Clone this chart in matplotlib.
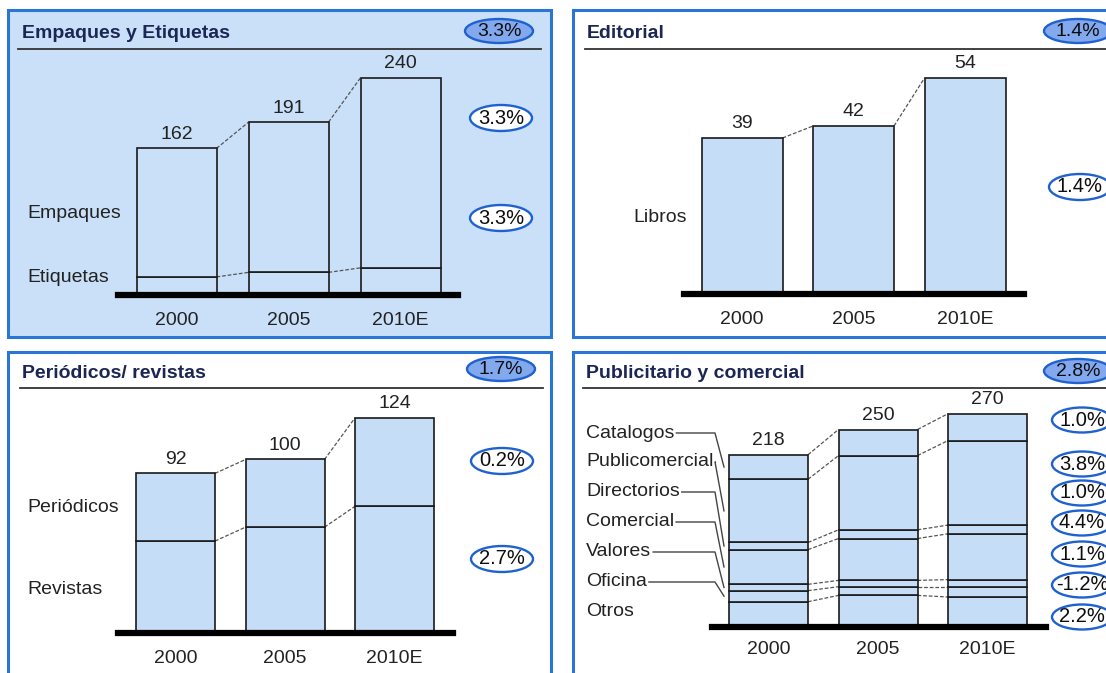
import matplotlib
matplotlib.use('Agg')
import matplotlib.pyplot as plt
from matplotlib.patches import Rectangle, Ellipse
from matplotlib.lines import Line2D
import numpy as np

plt.rcParams['font.family'] = ['Liberation Sans', 'DejaVu Sans']

# --- data -------------------------------------------------------------
years = ['2000', '2005', '2010E']

# Empaques y Etiquetas
etiquetas = [20, 25, 30]
empaques = [142, 166, 210]
emp_growth_total = '3.3%'
emp_growth = ['3.3%', '3.3%']

# Editorial
libros = [39, 42, 54]
edit_growth_total = '1.4%'
edit_growth = ['1.4%']

# Periodicos / revistas
revistas = [53, 61, 73]
periodicos = [39, 39, 51]
per_growth_total = '1.7%'
per_growth = ['0.2%', '2.7%']

# Publicitario y comercial (bottom -> top)
otros = [32, 40, 38]
oficina = [14, 11, 13]
valores = [8, 8, 9]
comercial = [44, 53, 58]
directorios = [9, 11, 11]
publicomercial = [80, 94, 107]
catalogos = [31, 33, 34]
pub_names = ['Catalogos', 'Publicomercial', 'Directorios', 'Comercial',
             'Valores', 'Oficina', 'Otros']
pub_growth_total = '2.8%'
pub_growth = ['1.0%', '3.8%', '1.0%', '4.4%', '1.1%', '-1.2%', '2.2%']

# --- style ------------------------------------------------------------
W, H = 1106, 673
BAR_FILL = '#c6ddf7'
PANEL_BLUE = '#c9e0f8'
BORDER = '#2a76d6'
EDGE = '#1a1a1a'
TITLE_C = '#1c2654'
TXT = '#222222'

fig = plt.figure(figsize=(W / 100, H / 100), dpi=100)
fig.patch.set_facecolor('white')


def fx(x):
    return x / W


def fy(y):
    return 1 - y / H


def panel(box, bg, title, tx, ty, ux0, ux1, uy, badge_xy, badge_txt):
    x0, y0, x1, y1 = box
    fig.add_artist(Rectangle((fx(x0), fy(y1)), fx(x1 - x0), (y1 - y0) / H,
                             transform=fig.transFigure, facecolor=bg,
                             edgecolor=BORDER, lw=2.2, zorder=0))
    fig.text(fx(tx), fy(ty), title, fontsize=14, fontweight='bold',
             color=TITLE_C, va='center', ha='left')
    fig.add_artist(Line2D([fx(ux0), fx(ux1)], [fy(uy), fy(uy)],
                          transform=fig.transFigure, color='#333333', lw=1.3))
    badge(badge_xy[0], badge_xy[1], badge_txt, filled=True)


def badge(x, y, txt, filled=False, w=62, h=26):
    if filled:
        fc, w, h, fs = '#82a8ee', 68, 24, 14
    else:
        fc, fs = 'white', 14.5
    fig.add_artist(Ellipse((fx(x), fy(y)), w / W, h / H,
                           transform=fig.transFigure, facecolor=fc,
                           edgecolor='#1f62cf', lw=1.7, zorder=3))
    fig.text(fx(x), fy(y), txt, fontsize=fs, color='#0d0d0d', ha='center',
             va='center', zorder=4)


def bar_axes(bx0, bx1, by, top, c0, step, bw, scale):
    ax = fig.add_axes([fx(bx0), fy(by), fx(bx1 - bx0), (by - top) / H])
    ax.set_xlim((bx0 - c0) / step, (bx1 - c0) / step)
    ax.set_ylim(0, (by - top) / scale)
    ax.patch.set_alpha(0)
    for s in ax.spines.values():
        s.set_visible(False)
    ax.set_yticks([])
    ax.set_xticks(range(len(years)), years)
    ax.tick_params(axis='x', length=0, pad=12, labelsize=14, labelcolor=TXT)
    ax.axhline(0, color='black', lw=4.5, clip_on=False, zorder=5)
    return ax, bw / step


def stacked(ax, w, series, fill):
    x = np.arange(len(years))
    bottom = np.zeros(len(years))
    levels = []
    for vals in series:
        ax.bar(x, vals, bottom=bottom, width=w, color=fill, edgecolor=EDGE,
               lw=1.2, zorder=2)
        bottom = bottom + np.array(vals)
        levels.append(bottom.copy())
    # dashed connectors between neighbouring bars
    for lev in levels:
        for i in range(len(years) - 1):
            ax.plot([i + w / 2, i + 1 - w / 2], [lev[i], lev[i + 1]],
                    color='#555555', lw=0.9, ls=(0, (3, 1.5)), zorder=1)
    for i, tot in enumerate(bottom):
        ax.annotate(f'{int(tot)}', (i, tot), xytext=(0, 4),
                    textcoords='offset points', ha='center', va='bottom',
                    fontsize=14, color=TXT)
    return levels


# panel 1: Empaques y Etiquetas
panel((8, 10, 551, 337), PANEL_BLUE, 'Empaques y Etiquetas', 22, 33,
      18, 541, 49, (499, 31), emp_growth_total)
ax1, w1 = bar_axes(118, 458, 295, 60, 176.5, 112, 80, 0.905)
stacked(ax1, w1, [etiquetas, empaques], PANEL_BLUE)
fig.text(fx(27), fy(213), 'Empaques', fontsize=14, color=TXT, va='center')
fig.text(fx(27), fy(278), 'Etiquetas', fontsize=14, color=TXT, va='center')
for yy, g in zip([118, 218], emp_growth):
    badge(501, yy, g)

# panel 2: Editorial
panel((573, 10, 1130, 337), 'white', 'Editorial', 587, 33,
      585, 1106, 49, (1078, 31), edit_growth_total)
ax2, w2 = bar_axes(684, 1024, 294, 60, 742, 111.5, 81, 4.0)
stacked(ax2, w2, [libros], BAR_FILL)
fig.text(fx(633), fy(218), 'Libros', fontsize=14, color=TXT, va='center')
for yy, g in zip([187], edit_growth):
    badge(1080, yy, g)

# panel 3: Periodicos / revistas
panel((8, 352, 551, 690), 'white', 'Periódicos/ revistas', 22, 374,
      20, 543, 388, (501, 369), per_growth_total)
ax3, w3 = bar_axes(118, 453, 633, 400, 175.5, 109.5, 79, 1.735)
stacked(ax3, w3, [revistas, periodicos], BAR_FILL)
fig.text(fx(27), fy(508), 'Periódicos', fontsize=14, color=TXT, va='center')
fig.text(fx(27), fy(590), 'Revistas', fontsize=14, color=TXT, va='center')
for yy, g in zip([461, 559], per_growth):
    badge(502, yy, g)

# panel 4: Publicitario y comercial
panel((573, 352, 1130, 690), 'white', 'Publicitario y comercial', 586, 374,
      583, 1106, 388, (1078, 371), pub_growth_total)
ax4, w4 = bar_axes(712, 1046, 627, 395, 768.5, 109.5, 79, 0.79)
pub_series = [otros, oficina, valores, comercial, directorios,
              publicomercial, catalogos]
levels = stacked(ax4, w4, pub_series, BAR_FILL)
ax4.tick_params(axis='x', pad=10)

label_y = [433, 462, 492, 522, 552, 582, 612]
for yy, g in zip([420, 464, 493, 523, 554, 585, 617], pub_growth):
    badge(1082, yy, g, w=60, h=25)

fig.canvas.draw()
renderer = fig.canvas.get_renderer()
n = len(pub_series)
for k, (name, yy) in enumerate(zip(pub_names, label_y)):
    t = fig.text(fx(586), fy(yy), name, fontsize=14, color=TXT, va='center')
    if name == 'Otros':
        continue
    idx = n - 1 - k
    lo = levels[idx - 1][0] if idx > 0 else 0
    mid = (lo + levels[idx][0]) / 2
    bb = t.get_window_extent(renderer)
    ex, ey = ax4.transData.transform((-w4 / 2, mid))
    xs = [bb.x1 + 2, 715, ex - 5]
    ys = [H - yy, H - yy, ey]
    fig.add_artist(Line2D([v / W for v in xs], [v / H for v in ys],
                          transform=fig.transFigure, color='#444444',
                          lw=1.0))

fig.savefig('out.png', dpi=100)
